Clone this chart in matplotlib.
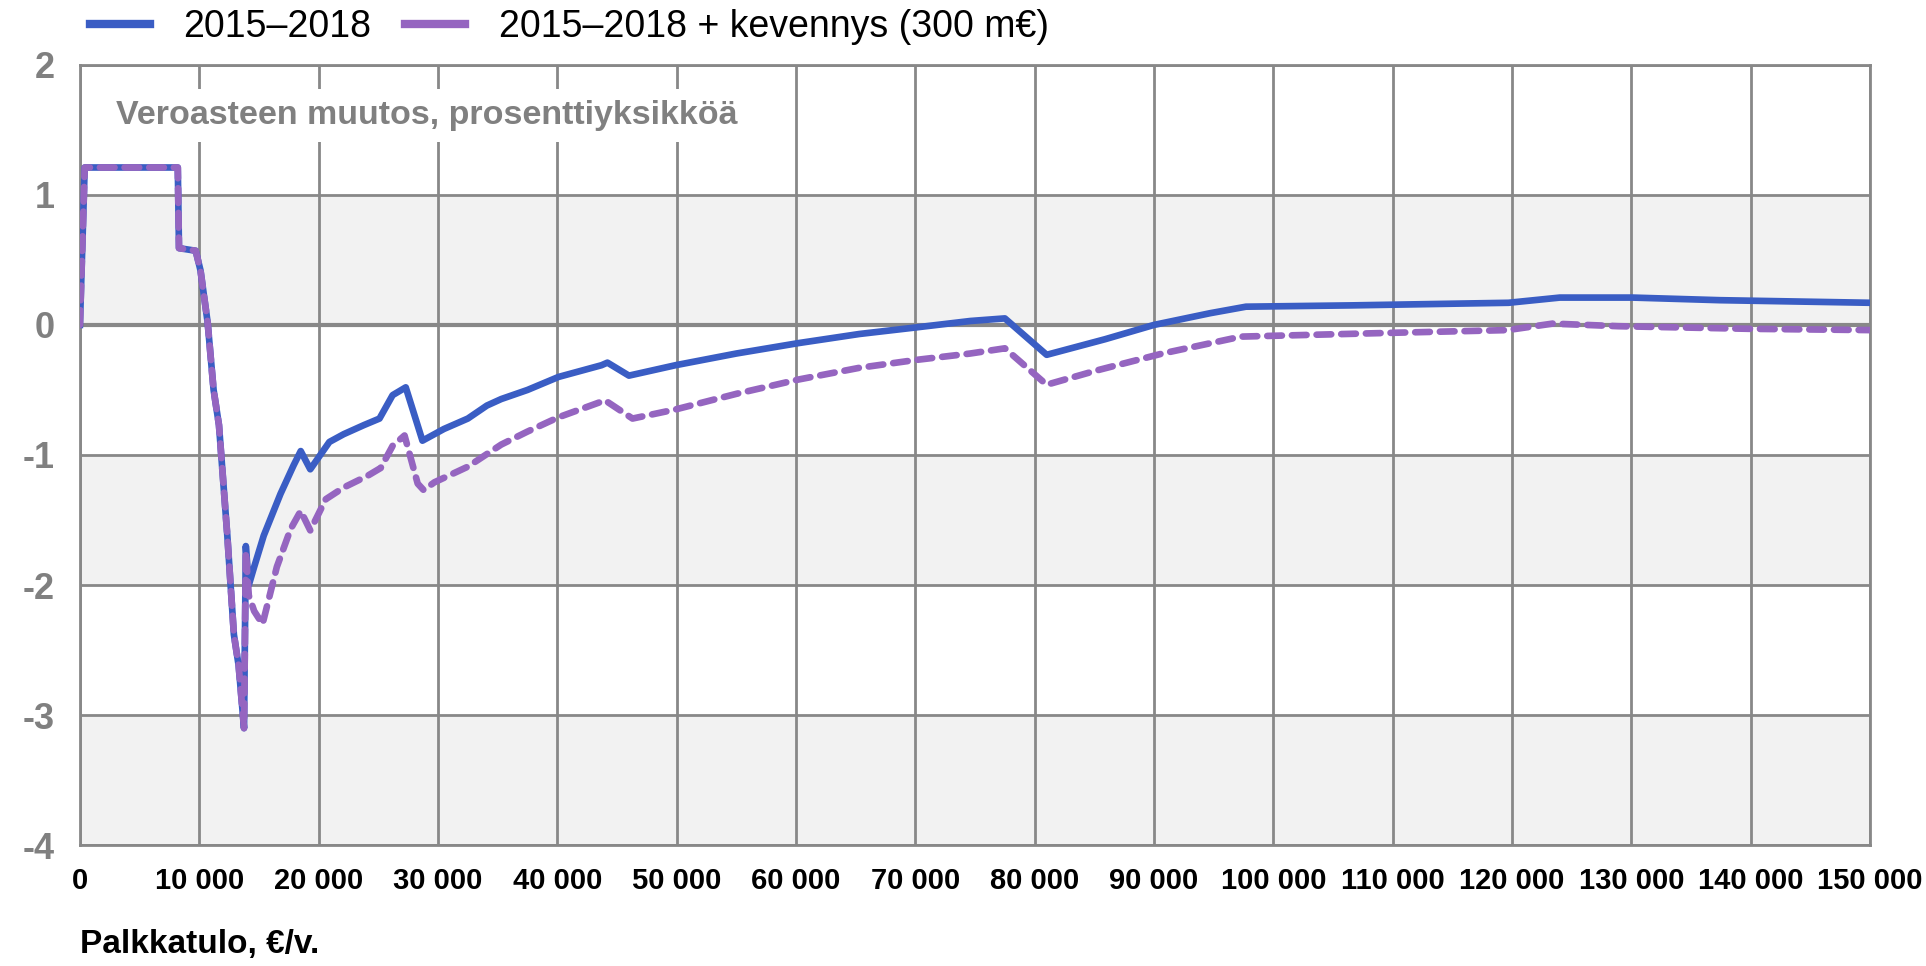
import matplotlib
matplotlib.use("Agg")
import matplotlib.pyplot as plt
from matplotlib.lines import Line2D
from matplotlib.ticker import FuncFormatter

plt.rcParams['font.family'] = ['Liberation Sans', 'DejaVu Sans']
plt.rcParams['axes.unicode_minus'] = False

# Data: 2015–2018
x_blue = [0, 400, 8200, 8300, 9700, 10100, 10700, 11200, 11650, 12350,
          12900, 13300, 13750, 13900, 14150, 14600, 15400, 16800, 17900, 18500,
          19300, 20900, 22100, 23800, 25100, 26200, 27300, 28700, 30500, 32500,
          34100, 35300, 37500, 40100, 43700, 44200, 46000, 49900, 55000, 60200,
          65300, 70000, 74600, 77500, 81000, 85900, 90000, 94700, 97700, 106500,
          119700, 124000, 130100, 137400, 150000]
y_blue = [0, 1.21, 1.21, 0.59, 0.57, 0.42, 0.02, -0.50, -0.77, -1.62,
          -2.38, -2.62, -3.10, -1.70, -2.00, -1.86, -1.62, -1.30, -1.08, -0.97,
          -1.11, -0.90, -0.84, -0.77, -0.72, -0.54, -0.48, -0.89, -0.80, -0.72,
          -0.62, -0.57, -0.50, -0.40, -0.31, -0.29, -0.39, -0.31, -0.22, -0.14,
          -0.07, -0.02, 0.03, 0.05, -0.23, -0.11, 0.00, 0.09, 0.14, 0.15,
          0.17, 0.21, 0.21, 0.19, 0.17]

# Data: 2015–2018 + kevennys (300 m€)
x_purple = [0, 400, 8200, 8300, 9700, 10100, 10700, 11200, 11650, 12350,
            12900, 13300, 13750, 13900, 14150, 14600, 15300, 16500, 17650, 18500,
            19300, 20600, 22100, 24100, 25200, 26200, 27200, 28300, 28800, 29700,
            32500, 35300, 37500, 40100, 44000, 46300, 49900, 55000, 60200, 65300,
            70000, 74600, 77500, 81000, 85200, 90700, 97300, 101600, 110300, 119600,
            123400, 128900, 139800, 150000]
y_purple = [0, 1.21, 1.21, 0.59, 0.57, 0.42, 0.02, -0.50, -0.77, -1.62,
            -2.38, -2.62, -3.10, -1.74, -2.08, -2.20, -2.30, -1.86, -1.57, -1.43,
            -1.58, -1.34, -1.25, -1.16, -1.10, -0.93, -0.85, -1.22, -1.27, -1.21,
            -1.09, -0.92, -0.82, -0.71, -0.58, -0.72, -0.65, -0.53, -0.42, -0.33,
            -0.27, -0.22, -0.18, -0.46, -0.35, -0.22, -0.09, -0.08, -0.06, -0.04,
            0.01, -0.01, -0.03, -0.04]

x_ticks = list(range(0, 150001, 10000))
y_ticks = [-4, -3, -2, -1, 0, 1, 2]

blue = '#3a5dc4'
purple = '#9565c0'
grid_col = '#888888'

fig = plt.figure(figsize=(19.26, 9.66), dpi=100)
ax = fig.add_axes([0.0415, 0.125, 0.9295, 0.808])

# Taustan vyöhykkeet
for lo in [0, -2, -4]:
    ax.axhspan(lo, lo + 1, color='#f2f2f2', zorder=0, lw=0)

ax.set_xlim(0, 150000)
ax.set_ylim(-4, 2)
ax.set_xticks(x_ticks)
ax.set_yticks(y_ticks)
ax.xaxis.set_major_formatter(FuncFormatter(lambda v, p: f"{int(v):,}".replace(',', ' ')))
ax.set_axisbelow(True)
ax.grid(True, color=grid_col, lw=2, zorder=1)
ax.axhline(0, color=grid_col, lw=3, zorder=1)
for s in ax.spines.values():
    s.set_color(grid_col)
    s.set_linewidth(2)
ax.tick_params(length=0)
ax.tick_params(axis='y', pad=18, labelsize=26, labelcolor='#808080')
ax.tick_params(axis='x', pad=16, labelsize=21)
for lab in ax.get_xticklabels() + ax.get_yticklabels():
    lab.set_fontweight('bold')

ax.plot(x_blue, y_blue, color=blue, lw=4.8, zorder=3, solid_joinstyle='round')
ax.plot(x_purple, y_purple, color=purple, lw=4.8, zorder=4, ls=(0, (2.2, 1.5)),
        dash_capstyle='round')

ax.text(0.02, 0.935, 'Veroasteen muutos, prosenttiyksikköä', transform=ax.transAxes,
        fontsize=24.5, fontweight='bold', color='#808080', va='center', zorder=2,
        bbox=dict(facecolor='white', edgecolor='none', pad=8))

fig.text(0.0415, 0.022, 'Palkkatulo, €/v.', fontsize=24, fontweight='bold', va='center')

handles = [Line2D([], [], color=blue, lw=6), Line2D([], [], color=purple, lw=6)]
fig.legend(handles, ['2015–2018', '2015–2018 + kevennys (300 m€)'],
           loc='center left', bbox_to_anchor=(0.029, 0.972), ncol=2, frameon=False,
           fontsize=27, handlelength=1.6, handletextpad=0.9, columnspacing=0.9)

fig.savefig('out.png', dpi=100)
